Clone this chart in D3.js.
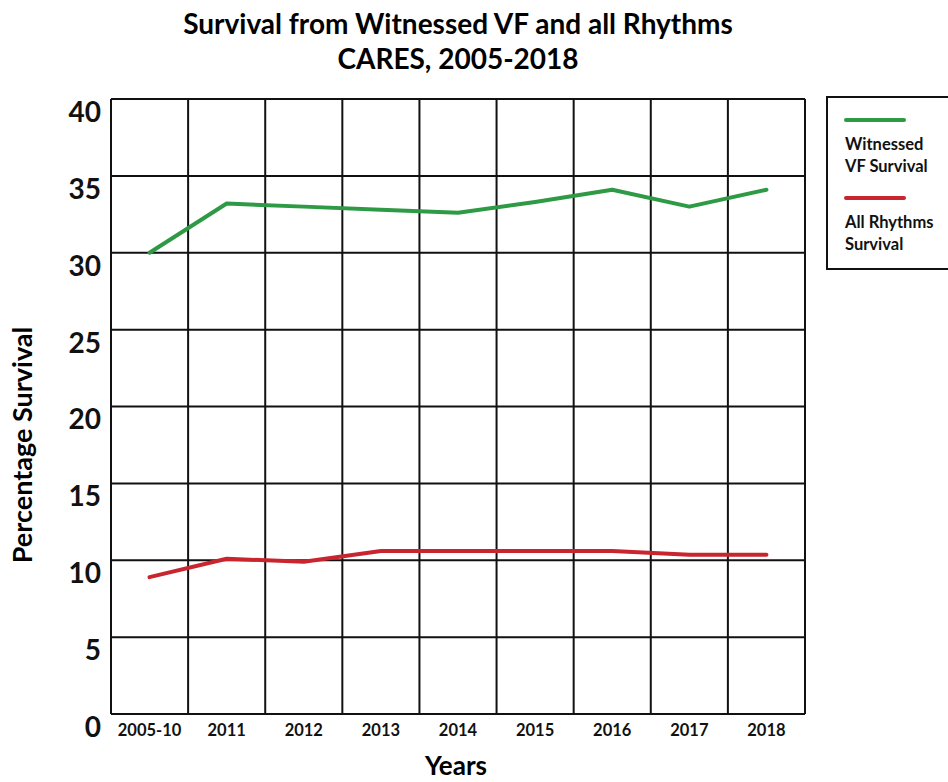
<!DOCTYPE html>
<html>
<head>
<meta charset="utf-8">
<script src="https://cdn.jsdelivr.net/npm/d3@7/dist/d3.min.js"></script>
<style>
  html, body { margin: 0; padding: 0; background: #fff; }
  svg { display: block; font-family: "Lato", "Open Sans", sans-serif; font-weight: 700; }
</style>
</head>
<body>
<svg id="chart" width="948" height="782"></svg>
<script>
// Survival data, CARES registry
const years = ["2005-10", "2011", "2012", "2013", "2014", "2015", "2016", "2017", "2018"];
const witnessedVF = [30.0, 33.2, 33.0, 32.8, 32.6, 33.3, 34.1, 33.0, 34.1];
const allRhythms = [8.9, 10.1, 9.9, 10.6, 10.6, 10.6, 10.6, 10.35, 10.35];
const yTicks = [0, 5, 10, 15, 20, 25, 30, 35, 40];
const seriesNames = [["Witnessed", "VF Survival"], ["All Rhythms", "Survival"]];
const seriesColors = ["#2f9a45", "#c9252f"];

const svg = d3.select("#chart");
const plot = { left: 111, right: 805, top: 99, bottom: 714 };

const x = d3.scaleBand().domain(years).range([plot.left, plot.right]);
const y = d3.scaleLinear().domain([0, 40]).range([plot.bottom, plot.top]);

// Title
svg.append("text").attr("x", 458).attr("y", 34).attr("text-anchor", "middle")
  .attr("font-size", 28).text("Survival from Witnessed VF and all Rhythms");
svg.append("text").attr("x", 458).attr("y", 69).attr("text-anchor", "middle")
  .attr("font-size", 28).text("CARES, 2005-2018");

// Grid: horizontal at each tick, vertical at each band edge
const grid = svg.append("g").attr("stroke", "#111").attr("stroke-width", 2);
grid.selectAll("line.h").data(yTicks).join("line")
  .attr("x1", plot.left).attr("x2", plot.right)
  .attr("y1", d => y(d)).attr("y2", d => y(d));
const edges = years.map(d => x(d)).concat([x(years[years.length - 1]) + x.bandwidth()]);
grid.selectAll("line.v").data(edges).join("line")
  .attr("y1", plot.top).attr("y2", plot.bottom)
  .attr("x1", d => d).attr("x2", d => d);

// Y axis labels
const yAxis = svg.append("g").attr("transform", `translate(${plot.left},0)`)
  .call(d3.axisLeft(y).tickValues(yTicks).tickSize(0).tickPadding(10).tickFormat(d3.format("d")));
yAxis.select(".domain").remove();
yAxis.selectAll("text").attr("font-size", 28).attr("font-family", "Lato, sans-serif")
  .attr("font-weight", 700).attr("fill", "#111").attr("dy", "0.8em");

// X axis labels
const xAxis = svg.append("g").attr("transform", `translate(0,${plot.bottom})`)
  .call(d3.axisBottom(x).tickSize(0).tickPadding(10));
xAxis.select(".domain").remove();
xAxis.selectAll("text").attr("font-size", 16.5).attr("font-family", "Lato, sans-serif")
  .attr("font-weight", 700).attr("fill", "#111");

// Axis titles
svg.append("text").attr("x", 456).attr("y", 775).attr("text-anchor", "middle")
  .attr("font-size", 26).text("Years");
svg.append("text").attr("transform", "translate(32,445) rotate(-90)")
  .attr("text-anchor", "middle").attr("font-size", 27).text("Percentage Survival");

// Lines
const line = d3.line()
  .x((d, i) => x(years[i]) + x.bandwidth() / 2)
  .y(d => y(d));
[witnessedVF, allRhythms].forEach((s, i) => {
  svg.append("path").datum(s).attr("d", line)
    .attr("fill", "none").attr("stroke", seriesColors[i])
    .attr("stroke-width", 4).attr("stroke-linejoin", "round").attr("stroke-linecap", "round");
});

// Legend
const lg = svg.append("g");
lg.append("rect").attr("x", 827).attr("y", 97).attr("width", 140).attr("height", 172)
  .attr("fill", "none").attr("stroke", "#111").attr("stroke-width", 2);
seriesNames.forEach((lines, i) => {
  const top = 120 + i * 78;
  lg.append("line").attr("x1", 846).attr("x2", 904).attr("y1", top).attr("y2", top)
    .attr("stroke", seriesColors[i]).attr("stroke-width", 4).attr("stroke-linecap", "round");
  lines.forEach((t, j) => {
    lg.append("text").attr("x", 845).attr("y", top + 30 + j * 22)
      .attr("font-size", 16.5).attr("fill", "#111").text(t);
  });
});
</script>
</body>
</html>
